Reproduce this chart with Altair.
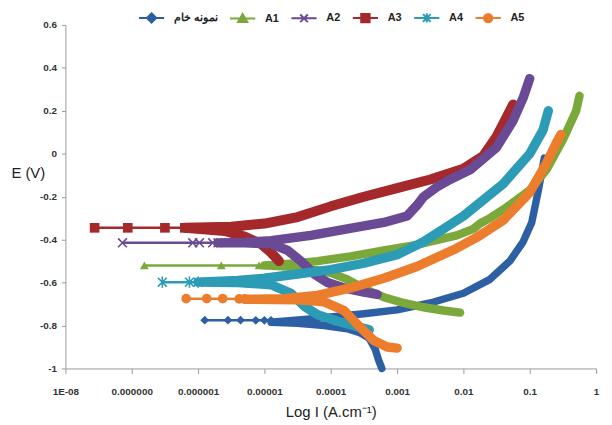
import altair as alt
import pandas as pd

# ---------------- data (log10 of current density, potential E in V) ----------------
series_names = ["نمونه خام", "A1", "A2", "A3", "A4", "A5"]
series_colors = ["#2D5FA4", "#7BA83A", "#6A4A94", "#A5282B", "#2C9BB5", "#EC7D2C"]

# raw sample (blue, diamond)
raw_cath = [(-3.23, -1.0), (-3.28, -0.96), (-3.33, -0.91), (-3.42, -0.86), (-3.55, -0.835),
            (-3.75, -0.815), (-4.1, -0.80), (-4.5, -0.79), (-4.9, -0.785)]
raw_anod = [(-4.9, -0.78), (-4.4, -0.772), (-4.0, -0.76), (-3.5, -0.745), (-3.0, -0.727),
            (-2.5, -0.695), (-2.0, -0.65), (-1.6, -0.585), (-1.3, -0.50), (-1.1, -0.41),
            (-0.97, -0.32), (-0.87, -0.17), (-0.78, -0.02)]
raw_tail = [(-4.9, -0.776), (-5.0, -0.776), (-5.13, -0.776), (-5.36, -0.775), (-5.55, -0.775),
            (-5.9, -0.775)]

# A1 (green, triangle)
a1_cath = [(-2.05, -0.74), (-2.3, -0.73), (-2.6, -0.715), (-2.9, -0.695), (-3.2, -0.668),
           (-3.45, -0.635), (-3.75, -0.585), (-4.0, -0.555), (-4.4, -0.53), (-5.0, -0.52)]
a1_anod = [(-5.0, -0.52), (-4.5, -0.51), (-4.2, -0.50), (-3.7, -0.478), (-3.2, -0.45),
           (-2.7, -0.424), (-2.1, -0.38), (-1.85, -0.35), (-1.75, -0.325), (-1.6, -0.30),
           (-1.4, -0.26), (-1.0, -0.17), (-0.75, -0.075), (-0.5, 0.065), (-0.3, 0.20),
           (-0.25, 0.27)]
a1_tail = [(-5.0, -0.52), (-5.08, -0.52), (-5.65, -0.52), (-6.81, -0.52)]

# A2 (purple, x)
a2_cath = [(-3.30, -0.655), (-3.5, -0.645), (-3.8, -0.625), (-4.05, -0.60), (-4.25, -0.56),
           (-4.45, -0.50), (-4.65, -0.45), (-4.9, -0.42), (-5.3, -0.415), (-5.7, -0.415)]
a2_anod = [(-5.7, -0.415), (-5.3, -0.413), (-4.9, -0.405), (-4.3, -0.38), (-3.75, -0.35),
           (-3.2, -0.32), (-2.85, -0.29), (-2.7, -0.24), (-2.6, -0.20), (-2.4, -0.155),
           (-2.2, -0.12), (-1.9, -0.075), (-1.5, 0.03), (-1.25, 0.155), (-1.1, 0.26),
           (-1.0, 0.35)]
a2_tail = [(-5.7, -0.415), (-5.78, -0.415), (-5.98, -0.415), (-6.08, -0.415), (-7.14, -0.415)]

# A3 (red, square)
a3_cath = [(-4.78, -0.50), (-4.9, -0.46), (-5.05, -0.42), (-5.3, -0.385), (-5.6, -0.36),
           (-6.2, -0.345)]
a3_anod = [(-6.2, -0.345), (-5.5, -0.34), (-5.0, -0.325), (-4.5, -0.295), (-4.0, -0.245),
           (-3.5, -0.20), (-3.0, -0.16), (-2.5, -0.12), (-2.0, -0.07), (-1.7, -0.01),
           (-1.5, 0.08), (-1.35, 0.17), (-1.25, 0.23)]
a3_tail = [(-6.2, -0.345), (-6.5, -0.345), (-7.06, -0.345), (-7.56, -0.345)]

# A4 (teal, asterisk)
a4_cath = [(-3.42, -0.82), (-3.6, -0.805), (-3.9, -0.78), (-4.2, -0.75), (-4.4, -0.71),
           (-4.6, -0.65), (-4.9, -0.61), (-5.4, -0.60), (-6.0, -0.598)]
a4_anod = [(-6.0, -0.598), (-5.4, -0.59), (-5.0, -0.58), (-4.5, -0.56), (-4.0, -0.54),
           (-3.5, -0.51), (-3.0, -0.47), (-2.6, -0.41), (-2.2, -0.33), (-2.0, -0.29),
           (-1.4, -0.14), (-1.0, 0.0), (-0.8, 0.11), (-0.72, 0.20)]
a4_tail = [(-6.0, -0.598), (-6.13, -0.598), (-6.54, -0.598)]

# A5 (orange, circle)
a5_cath = [(-3.0, -0.905), (-3.15, -0.90), (-3.35, -0.87), (-3.55, -0.81), (-3.8, -0.73),
           (-4.1, -0.69), (-4.5, -0.68), (-5.3, -0.678)]
a5_anod = [(-5.3, -0.678), (-4.7, -0.675), (-4.2, -0.66), (-3.7, -0.625), (-3.2, -0.58),
           (-2.7, -0.525), (-2.1, -0.44), (-1.8, -0.39), (-1.4, -0.31), (-1.0, -0.18),
           (-0.75, -0.045), (-0.6, 0.05), (-0.53, 0.09)]
a5_tail = [(-5.3, -0.676), (-5.38, -0.676), (-5.63, -0.675), (-5.87, -0.675), (-6.18, -0.675)]

xtick_values = [1e-8, 1e-7, 1e-6, 1e-5, 1e-4, 1e-3, 1e-2, 1e-1, 1]
xtick_labels = ["1E-08", "0.000000", "0.000001", "0.00001", "0.0001", "0.001", "0.01", "0.1", "1"]
ytick_values = [-1, -0.8, -0.6, -0.4, -0.2, 0, 0.2, 0.4, 0.6]

# ---------------- styling ----------------
NUM_FONT = "Liberation Sans Narrow, Liberation Sans, Arial"
TITLE_FONT = "Liberation Sans, Arial"
AXIS_GRAY = "#9a9a9a"

plot_paths = {
    "diamond": "diamond",
    "triangle": "triangle-up",
    "x": "M-1,-1L1,1M-1,1L1,-1",
    "square": "square",
    "star": "M-1,-1L1,1M-1,1L1,-1M0,-1.25L0,1.25",
    "circle": "circle",
}
legend_paths = [
    "M-3,0H3M0,-1.1L1.1,0L0,1.1L-1.1,0Z",
    "M-3,0H3M0,-1.1L1.1,0.8L-1.1,0.8Z",
    "M-3,0H3M-0.9,-0.9L0.9,0.9M-0.9,0.9L0.9,-0.9",
    "M-3,0H3M-1,-1H1V1H-1Z",
    "M-3,0H3M-0.9,-0.9L0.9,0.9M-0.9,0.9L0.9,-0.9M0,-1.1V1.1",
    "M-3,0H3M1,0A1,1,0,1,1,-1,0A1,1,0,1,1,1,0Z",
]

x_axis = alt.Axis(
    values=xtick_values,
    labelExpr="[" + ",".join("'%s'" % s for s in xtick_labels) + "][round(log(datum.value)/LN10)+8]",
    grid=False, tickSize=5, labelPadding=13, labelFlush=False, labelOverlap=False,
    domainColor=AXIS_GRAY, tickColor=AXIS_GRAY,
    labelFont=NUM_FONT, labelFontSize=10, labelFontWeight="bold", labelColor="#333333",
    title="Log I (A.cm⁻¹)", titleFont=TITLE_FONT, titleFontSize=15, titleFontWeight="normal",
    titleColor="#222222", titleY=44, titleBaseline="middle",
)
y_axis = alt.Axis(
    values=ytick_values,
    labelExpr="toString(round(datum.value*10)/10)",
    grid=False, tickSize=4, labelPadding=5, labelFlush=False,
    domainColor=AXIS_GRAY, tickColor=AXIS_GRAY,
    labelFont=NUM_FONT, labelFontSize=10, labelFontWeight="bold", labelColor="#333333",
    title="E (V)", titleFont=TITLE_FONT, titleFontSize=15, titleFontWeight="normal",
    titleColor="#222222", titleAngle=0, titleX=-38, titleY=149,
    titleAlign="center", titleBaseline="middle",
)
x_enc = alt.X("I:Q", scale=alt.Scale(type="log", domain=[1e-8, 1], nice=False), axis=x_axis)
y_enc = alt.Y("E:Q", scale=alt.Scale(domain=[-1, 0.6], nice=False, zero=False), axis=y_axis)


def frame(pairs):
    return pd.DataFrame({
        "I": [10 ** p[0] for p in pairs],
        "E": [p[1] for p in pairs],
        "k": list(range(len(pairs))),
    })


series = {
    "نمونه خام": (raw_cath, raw_anod, raw_tail, "diamond", 80, 7.5),
    "A1": (a1_cath, a1_anod, a1_tail, "triangle", 80, 8.5),
    "A2": (a2_cath, a2_anod, a2_tail, "x", 80, 9.5),
    "A3": (a3_cath, a3_anod, a3_tail, "square", 95, 10),
    "A4": (a4_cath, a4_anod, a4_tail, "star", 80, 9.5),
    "A5": (a5_cath, a5_anod, a5_tail, "circle", 95, 9.5),
}
draw_order = ["نمونه خام", "A1", "A3", "A2", "A4", "A5"]

layers = []
for name in draw_order:
    cath, anod, tail, shape, msize, bandw = series[name]
    color = series_colors[series_names.index(name)]
    band = frame(cath + anod[1:])
    tail_df = frame(tail)
    layers.append(
        alt.Chart(band).mark_line(color=color, strokeWidth=bandw, strokeCap="round",
                                  strokeJoin="round")
        .encode(x=x_enc, y=y_enc, order="k:Q")
    )
    layers.append(
        alt.Chart(tail_df).mark_line(color=color, strokeWidth=2.5)
        .encode(x=x_enc, y=y_enc, order="k:Q")
    )
    filled = shape not in ("x", "star")
    layers.append(
        alt.Chart(tail_df).mark_point(shape=plot_paths[shape], size=msize, filled=filled,
                                      color=color, opacity=1,
                                      strokeWidth=(1 if filled else 1.6))
        .encode(x=x_enc, y=y_enc)
    )

leg = alt.Legend(
    orient="none", legendX=74, legendY=-13, direction="horizontal", title=None,
    labelFont=NUM_FONT, labelFontSize=11, labelFontWeight="bold", labelColor="#222222",
    symbolSize=72, symbolStrokeWidth=2, symbolOffset=7.5, labelOffset=17,
    columnPadding=8, padding=0,
)
legend_layer = (
    alt.Chart(pd.DataFrame({"series": series_names}))
    .transform_filter("false")
    .mark_point(opacity=1, strokeWidth=2)
    .encode(
        fill=alt.Fill("series:N", scale=alt.Scale(domain=series_names, range=series_colors), legend=leg),
        stroke=alt.Stroke("series:N", scale=alt.Scale(domain=series_names, range=series_colors), legend=leg),
        shape=alt.Shape("series:N", scale=alt.Scale(domain=series_names, range=legend_paths), legend=leg),
    )
)

chart = (
    alt.layer(*layers, legend_layer)
    .properties(
        width=536, height=347,
        autosize=alt.AutoSizeParams(type="none"),
        padding={"left": 58, "top": 15, "right": 8, "bottom": 52},
        background="white",
    )
    .configure_view(strokeWidth=0)
)

chart.save("out.html", embed_options={"renderer": "svg", "actions": False})
